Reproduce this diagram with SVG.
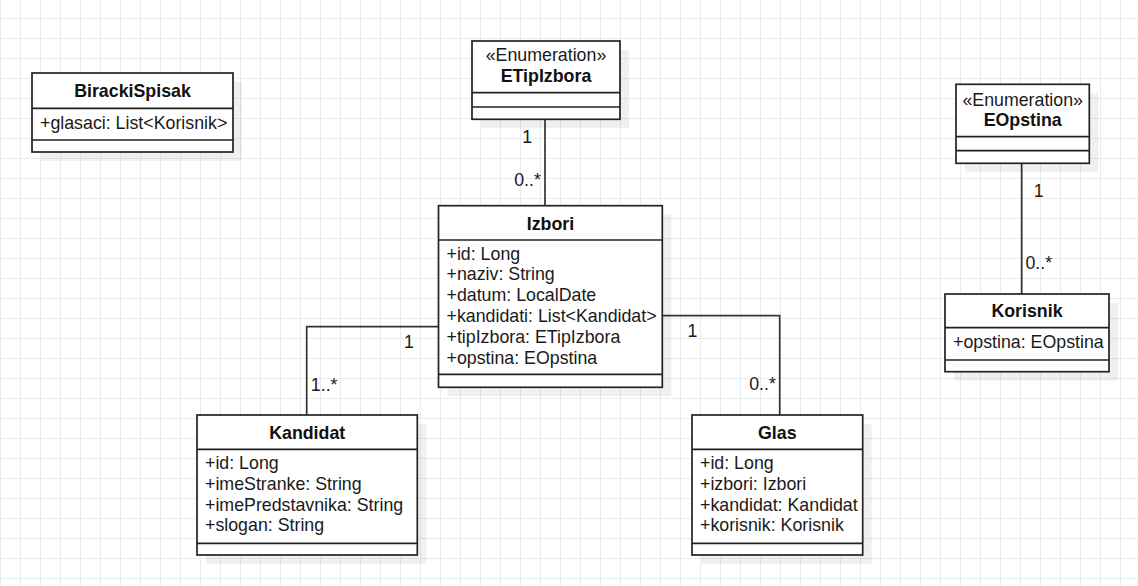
<svg xmlns="http://www.w3.org/2000/svg" width="1138" height="586" viewBox="0 0 1138 586">
<defs>
<pattern id="grid" x="0" y="-2" width="20" height="20" patternUnits="userSpaceOnUse">
<path d="M0 0.5H20M0.5 0V20" fill="none" stroke="#ebebeb" stroke-width="1"/>
</pattern>
<style>
.box{fill:#fff;stroke:#222;stroke-width:1.7}
.sh{fill:#000;fill-opacity:0.06}
.div{stroke:#222;stroke-width:1.7}
.t{font-family:"Liberation Sans",Arial,sans-serif;font-size:17.8px;fill:#1a1a1a}
.b{font-family:"Liberation Sans",Arial,sans-serif;font-size:17.8px;font-weight:bold;fill:#111;text-anchor:middle}
.c{text-anchor:middle}
.con{fill:none;stroke:#333;stroke-width:1.7}
</style>
</defs>
<rect width="1138" height="586" fill="#fff"/>
<rect width="1138" height="586" fill="url(#grid)"/>

<g id="connectors">
<path class="con" d="M545 119.3V205.7"/>
<path class="con" d="M438.5 326.7H306.7V415"/>
<path class="con" d="M662.3 315.7H779.7V415"/>
<path class="con" d="M1021.7 163.3V294"/>
<text class="t c" x="527.3" y="142.7">1</text>
<text class="t c" x="527.5" y="186">0..*</text>
<text class="t c" x="409" y="348">1</text>
<text class="t c" x="324.2" y="390.7">1..*</text>
<text class="t c" x="692.5" y="336.7">1</text>
<text class="t c" x="762.5" y="390">0..*</text>
<text class="t c" x="1038.8" y="197.3">1</text>
<text class="t c" x="1038.8" y="269.3">0..*</text>
</g>

<g id="BirackiSpisak">
<rect class="sh" x="41" y="82" width="201" height="79"/>
<rect class="box" x="32" y="73" width="201" height="79"/>
<path class="div" d="M32 108.3H233M32 140H233"/>
<text class="b" x="132.5" y="97">BirackiSpisak</text>
<text class="t" x="40" y="129">+glasaci: List&lt;Korisnik&gt;</text>
</g>

<g id="ETipIzbora">
<rect class="sh" x="481" y="50" width="148" height="78.3"/>
<rect class="box" x="472" y="41" width="148" height="78.3"/>
<path class="div" d="M472 92.7H620M472 107H620"/>
<text class="t c" x="546" y="61.3">«Enumeration»</text>
<text class="b" x="546" y="82.3">ETipIzbora</text>
</g>

<g id="EOpstina">
<rect class="sh" x="965" y="93.3" width="133.3" height="79"/>
<rect class="box" x="956" y="84.3" width="133.3" height="79"/>
<path class="div" d="M956 136.7H1089.3M956 150.7H1089.3"/>
<text class="t c" x="1022.7" y="105.6">«Enumeration»</text>
<text class="b" x="1022.7" y="126.3">EOpstina</text>
</g>

<g id="Izbori">
<rect class="sh" x="447.5" y="214.7" width="223.8" height="181.6"/>
<rect class="box" x="438.5" y="205.7" width="223.8" height="181.6"/>
<path class="div" d="M438.5 240H662.3M438.5 374.3H662.3"/>
<text class="b" x="550.4" y="229.5">Izbori</text>
<text class="t" x="446.5" y="259.5">+id: Long</text>
<text class="t" x="446.5" y="280.3">+naziv: String</text>
<text class="t" x="446.5" y="301.1">+datum: LocalDate</text>
<text class="t" x="446.5" y="321.9">+kandidati: List&lt;Kandidat&gt;</text>
<text class="t" x="446.5" y="342.7">+tipIzbora: ETipIzbora</text>
<text class="t" x="446.5" y="363.5">+opstina: EOpstina</text>
</g>

<g id="Korisnik">
<rect class="sh" x="954" y="303" width="164" height="77.7"/>
<rect class="box" x="945" y="294" width="164" height="77.7"/>
<path class="div" d="M945 327.7H1109M945 360H1109"/>
<text class="b" x="1027" y="317">Korisnik</text>
<text class="t" x="953" y="348">+opstina: EOpstina</text>
</g>

<g id="Kandidat">
<rect class="sh" x="206" y="424" width="220.3" height="140"/>
<rect class="box" x="197" y="415" width="220.3" height="140"/>
<path class="div" d="M197 449.3H417.3M197 543.3H417.3"/>
<text class="b" x="307.2" y="438.5">Kandidat</text>
<text class="t" x="205" y="469">+id: Long</text>
<text class="t" x="205" y="489.8">+imeStranke: String</text>
<text class="t" x="205" y="510.6">+imePredstavnika: String</text>
<text class="t" x="205" y="531.4">+slogan: String</text>
</g>

<g id="Glas">
<rect class="sh" x="701" y="424" width="170.7" height="140"/>
<rect class="box" x="692" y="415" width="170.7" height="140"/>
<path class="div" d="M692 449.3H862.7M692 543.3H862.7"/>
<text class="b" x="777.3" y="438.5">Glas</text>
<text class="t" x="700" y="469">+id: Long</text>
<text class="t" x="700" y="489.8">+izbori: Izbori</text>
<text class="t" x="700" y="510.6">+kandidat: Kandidat</text>
<text class="t" x="700" y="531.4">+korisnik: Korisnik</text>
</g>
</svg>
